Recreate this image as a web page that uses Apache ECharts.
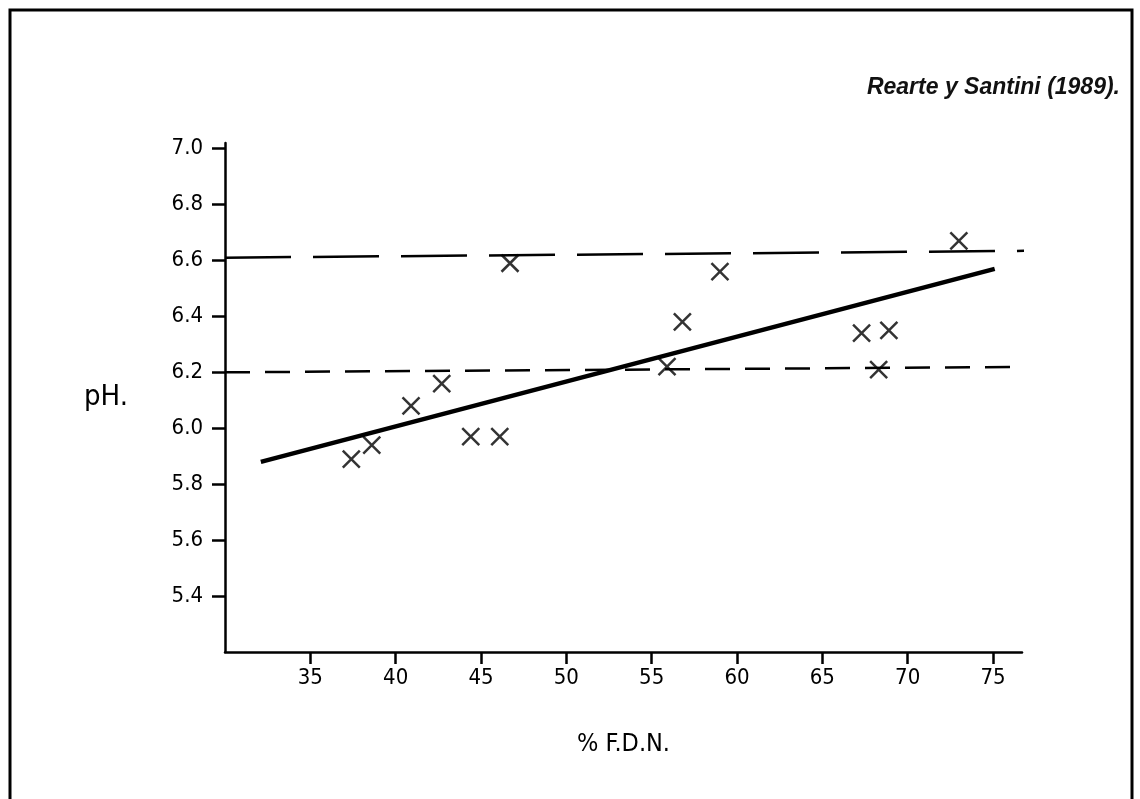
<!DOCTYPE html>
<html>
<head>
<meta charset="utf-8">
<script src="https://cdn.jsdelivr.net/npm/echarts@6/dist/echarts.min.js"></script>
<style>
  html, body { margin: 0; padding: 0; background: #fff; }
  #chart { width: 1140px; height: 799px; }
</style>
</head>
<body>
<div id="chart"></div>
<script>
// pH vs % F.D.N. (Rearte y Santini, 1989)
const fdn = [37.4, 38.6, 40.9, 42.7, 44.4, 46.1, 46.7, 55.9, 56.8, 59.0, 67.3, 68.9, 68.3, 73.0];
const ph = [5.89, 5.94, 6.08, 6.16, 5.97, 5.97, 6.59, 6.22, 6.38, 6.56, 6.34, 6.35, 6.21, 6.67];

const fitX = [32.1, 75.1];
const fitY = [5.88, 6.57];

const upperX = [30.0, 78.1];
const upperY = [6.61, 6.635];
const lowerX = [30.0, 78.7];
const lowerY = [6.20, 6.22];

const xTicks = [35, 40, 45, 50, 55, 60, 65, 70, 75];
const yTicks = [5.4, 5.6, 5.8, 6.0, 6.2, 6.4, 6.6, 6.8, 7.0];

const zip = (a, b) => a.map((v, i) => [v, b[i]]);
const labelFont = "'DejaVu Sans Condensed', 'DejaVu Sans', sans-serif";

const myChart = echarts.init(document.getElementById('chart'));

const option = {
    backgroundColor: '#fff',
    animation: false,
    grid: {
        left: 225,
        top: 143,
        width: 797,
        height: 509
    },
    graphic: [
        {
            type: 'rect',
            shape: { x: 10, y: 10, width: 1122, height: 820 },
            style: { fill: 'none', stroke: '#000', lineWidth: 3 }
        },
        {
            type: 'text',
            right: 20,
            top: 76,
            style: {
                text: 'Rearte y Santini (1989).',
                font: 'italic bold 23px "Liberation Sans", Arial, sans-serif',
                fill: '#111'
            }
        }
    ],
    xAxis: {
        type: 'value',
        min: 30,
        max: 76.7,
        splitLine: { show: false },
        axisLine: { lineStyle: { color: '#000', width: 2.5 } },
        axisTick: {
            customValues: xTicks,
            length: 12,
            lineStyle: { color: '#000', width: 2.5 }
        },
        axisLabel: {
            customValues: xTicks,
            margin: 15,
            color: '#000',
            fontSize: 22,
            fontFamily: labelFont
        },
        name: '% F.D.N.',
        nameLocation: 'middle',
        nameGap: 80,
        nameTextStyle: { color: '#000', fontSize: 25, fontFamily: labelFont }
    },
    yAxis: {
        type: 'value',
        min: 5.2,
        max: 7.02,
        splitLine: { show: false },
        axisLine: { lineStyle: { color: '#000', width: 2.5 } },
        axisTick: {
            customValues: yTicks,
            length: 13,
            lineStyle: { color: '#000', width: 2.5 }
        },
        axisLabel: {
            customValues: yTicks,
            margin: 22,
            color: '#000',
            fontSize: 22,
            fontFamily: labelFont,
            formatter: v => v.toFixed(1)
        },
        name: 'pH.',
        nameLocation: 'middle',
        nameRotate: 0,
        nameGap: 97,
        nameTextStyle: { color: '#000', fontSize: 29, fontFamily: labelFont, padding: [26, 0, 0, 0] }
    },
    series: [
        {
            type: 'line',
            data: zip(upperX, upperY),
            showSymbol: false,
            clip: false,
            lineStyle: { color: '#000', width: 2.5, type: [66, 22] }
        },
        {
            type: 'line',
            data: zip(lowerX, lowerY),
            showSymbol: false,
            clip: false,
            lineStyle: { color: '#000', width: 2.5, type: [25, 15] }
        },
        {
            type: 'line',
            data: zip(fitX, fitY),
            showSymbol: false,
            lineStyle: { color: '#000', width: 4.5 }
        },
        {
            type: 'scatter',
            data: zip(fdn, ph),
            symbol: 'path://M0,0L10,10M10,0L0,10',
            symbolSize: 17,
            itemStyle: { color: 'transparent', borderColor: '#000', borderWidth: 2.5 }
        }
    ]
};

myChart.setOption(option, true);
</script>
</body>
</html>
